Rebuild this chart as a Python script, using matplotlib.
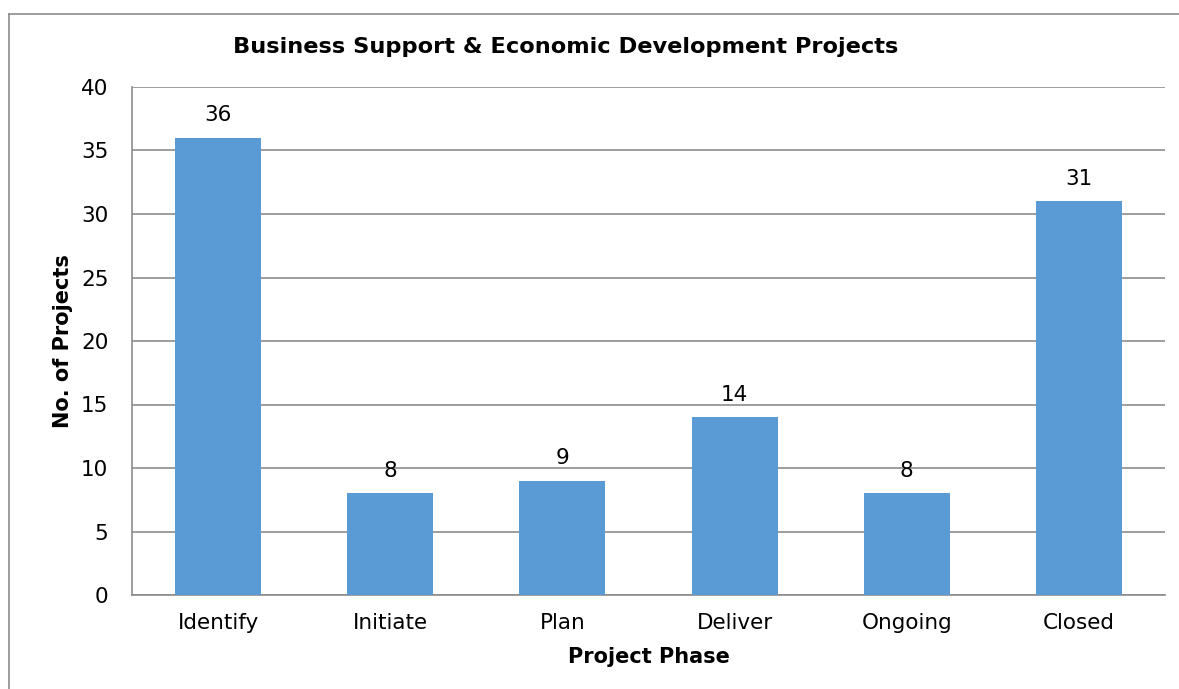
import matplotlib.pyplot as plt
from matplotlib.lines import Line2D

# chart data
phases = ['Identify', 'Initiate', 'Plan', 'Deliver', 'Ongoing', 'Closed']
projects = [36, 8, 9, 14, 8, 31]
y_ticks = [0, 5, 10, 15, 20, 25, 30, 35, 40]

plt.rcParams['font.family'] = ['DejaVu Sans']

fig = plt.figure(figsize=(11.79, 6.89), dpi=100)
fig.patch.set_facecolor('white')

# outer chart border (top and left visible, rest cropped)
fig.add_artist(Line2D([9 / 1179, 1.0], [1 - 14 / 689, 1 - 14 / 689],
                      color='#8c8c8c', linewidth=1.2, transform=fig.transFigure))
fig.add_artist(Line2D([9 / 1179, 9 / 1179], [0.0, 1 - 14 / 689],
                      color='#8c8c8c', linewidth=1.2, transform=fig.transFigure))

ax = fig.add_axes([132 / 1179, 1 - 595 / 689, (1165 - 132) / 1179, (595 - 87) / 689])

x = range(len(phases))
bars = ax.bar(x, projects, width=0.5, color='#5b9bd5', zorder=3)

for xi, v in zip(x, projects):
    ax.annotate(str(v), (xi, v), xytext=(0, 9), textcoords='offset points',
                ha='center', va='bottom', fontsize=15.5, color='black')

ax.set_xlim(-0.5, len(phases) - 0.5)
ax.set_ylim(0, 40)
ax.set_yticks(y_ticks)
ax.set_xticks(list(x))
ax.set_xticklabels(phases)
ax.tick_params(axis='both', length=0, labelsize=15.5, colors='black')
ax.tick_params(axis='y', pad=17)
ax.tick_params(axis='x', pad=13)

ax.yaxis.grid(True, color='#8c8c8c', linewidth=1.2, zorder=0)
ax.set_axisbelow(True)
for s in ['top', 'right']:
    ax.spines[s].set_visible(False)
for s in ['left', 'bottom']:
    ax.spines[s].set_color('#8c8c8c')
    ax.spines[s].set_linewidth(1.2)

ax.set_ylabel('No. of Projects', fontsize=15, fontweight='bold', labelpad=6)
ax.set_xlabel('Project Phase', fontsize=15, fontweight='bold', labelpad=10)

fig.text(566 / 1179, 1 - 47 / 689, 'Business Support & Economic Development Projects',
         ha='center', va='center', fontsize=16.2, fontweight='bold')

fig.savefig('out.png', dpi=100, facecolor='white')
